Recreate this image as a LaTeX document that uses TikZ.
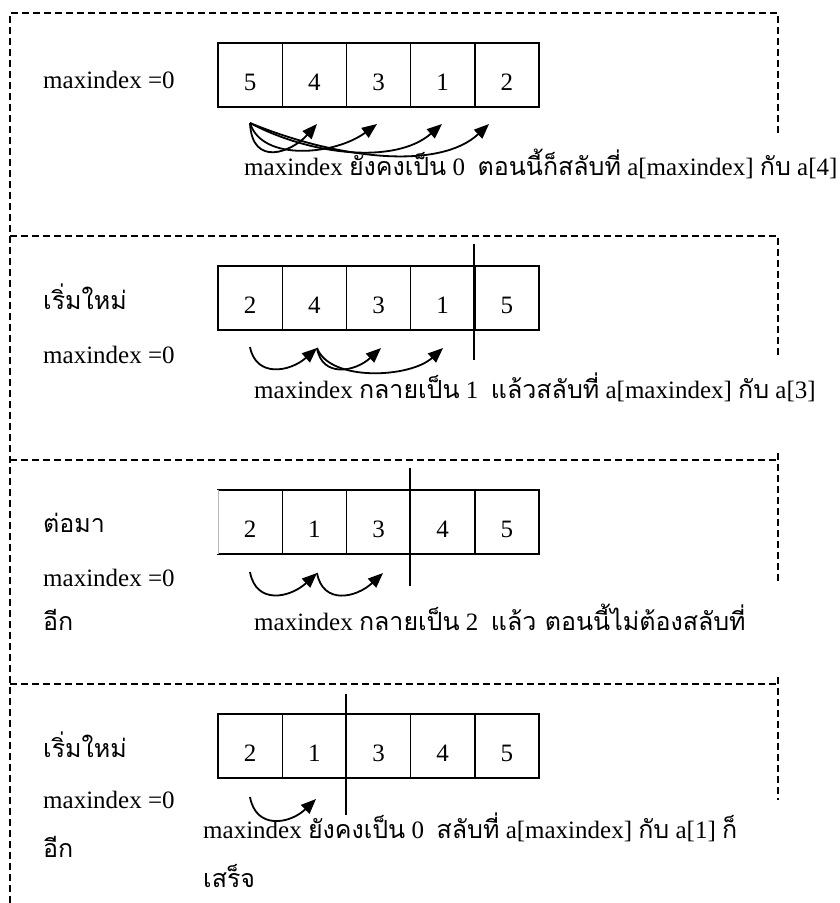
\documentclass[tikz,border=0pt]{standalone}
\usepackage{fontspec}
\setmainfont{Liberation Serif}
\newfontfamily\thai[Script=Thai]{Loma}
\usetikzlibrary{arrows.meta}
\begin{document}
\begin{tikzpicture}[x=1pt,y=-1pt,
  cell/.style={draw, line width=1.4pt, minimum width=64.2pt, minimum height=64pt, inner sep=0pt, outer sep=0pt},
  digit/.style={font=\fontsize{25}{30}\selectfont, inner sep=0pt, anchor=base},
  lbl/.style={font=\fontsize{25}{30}\selectfont, inner sep=0pt, anchor=base west},
  frame/.style={line width=1.3pt, dash pattern=on 7pt off 4pt},
  divider/.style={line width=1.3pt},
  arr/.style={line width=1.8pt, -{Triangle[length=15pt,width=12pt]}},
]
\useasboundingbox (0,0) rectangle (840,903);
% ---------- frames ----------
\draw[frame] (10,903) -- (10,13) -- (778,13) -- (778,134);
\draw[frame] (10,236) -- (778,236) -- (778,356);
\draw[frame] (10,460) -- (778,460);
\draw[frame] (778,453) -- (778,583);
\draw[frame] (10,684) -- (778,684);
\draw[frame] (778,677) -- (778,800);
% ---------- section 1 ----------
\foreach \v [count=\i] in {5,4,3,1,2} {
  \node[cell] (s1c\i) at ({218+64.2*(\i-0.5)},75) {};
  \node[digit] (s1d\i) at ([yshift=-15pt]s1c\i.center) {\v};
}
\node[lbl] (s1l) at (43,88) {maxindex =0};
\node[lbl] (s1t) at (244,175) {maxindex {\thai ยังคงเป็น} 0\ \ {\thai ตอนนี้ก็สลับที่} a[maxindex] {\thai กับ} a[4]};
\coordinate (s1a0) at (250,123);
\coordinate (s1a1) at (317,124);
\coordinate (s1a2) at (377,124);
\coordinate (s1a3) at (442,124);
\coordinate (s1a4) at (489,124);
\draw[arr] (s1a0) .. controls (252,168) and (292,152) .. (s1a1);
\draw[arr] (s1a0) .. controls (262,162) and (335,155) .. (s1a2);
\draw[arr] (s1a0) .. controls (310,155) and (395,165) .. (s1a3);
\draw[arr] (s1a0) .. controls (340,160) and (440,170) .. (s1a4);
% ---------- section 2 ----------
\foreach \v [count=\i] in {2,4,3,1,5} {
  \node[cell] (s2c\i) at ({218+64.2*(\i-0.5)},298) {};
  \node[digit] (s2d\i) at ([yshift=-15pt]s2c\i.center) {\v};
}
\coordinate (s2v1) at (474,244);
\coordinate (s2v2) at (474,360);
\draw[divider] (s2v1) -- (s2v2);
\node[lbl] (s2l1) at (43,309) {\thai เริ่มใหม่};
\node[lbl] (s2l2) at (43,363) {maxindex =0};
\node[lbl] (s2t) at (254,398) {maxindex {\thai กลายเป็น} 1\ \ {\thai แล้วสลับที่} a[maxindex] {\thai กับ} a[3]};
\coordinate (s2a0) at (250,347);
\coordinate (s2a1) at (317,348);
\coordinate (s2a2) at (381,348);
\coordinate (s2a3) at (443,348);
\draw[arr] (s2a0) .. controls (256,378) and (290,372) .. (s2a1);
\draw[arr] (s2a1) .. controls (322,378) and (355,372) .. (s2a2);
\draw[arr] (s2a1) .. controls (330,382) and (410,378) .. (s2a3);
% ---------- section 3 ----------
\foreach \v [count=\i] in {2,1,3,4,5} {
  \node[cell] (s3c\i) at ({218+64.2*(\i-0.5)},522) {};
  \node[digit] (s3d\i) at ([yshift=-15pt]s3c\i.center) {\v};
}
\draw[white, line width=1.6pt] (s3c1.north west) -- (s3c1.south west);
\draw[gray!55, line width=0.8pt] (s3c1.north west) -- (s3c1.south west);
\coordinate (s3v1) at (410,468);
\coordinate (s3v2) at (410,586);
\draw[divider] (s3v1) -- (s3v2);
\node[lbl] (s3l1) at (43,532) {\thai ต่อมา};
\node[lbl] (s3l2) at (43,586) {maxindex =0};
\node[lbl] (s3l3) at (43,630) {\thai อีก};
\node[lbl] (s3t) at (254,630) {maxindex {\thai กลายเป็น} 2\ \ {\thai แล้ว ตอนนี้ไม่ต้องสลับที่}};
\coordinate (s3a0) at (250,572);
\coordinate (s3a1) at (317,573);
\coordinate (s3a2) at (383,573);
\draw[arr] (s3a0) .. controls (256,605) and (290,598) .. (s3a1);
\draw[arr] (s3a1) .. controls (323,605) and (356,598) .. (s3a2);
% ---------- section 4 ----------
\foreach \v [count=\i] in {2,1,3,4,5} {
  \node[cell] (s4c\i) at ({218+64.2*(\i-0.5)},746) {};
  \node[digit] (s4d\i) at ([yshift=-15pt]s4c\i.center) {\v};
}
\coordinate (s4v1) at (346,694);
\coordinate (s4v2) at (346,815);
\draw[divider] (s4v1) -- (s4v2);
\node[lbl] (s4l1) at (43,757) {\thai เริ่มใหม่};
\node[lbl] (s4l2) at (43,808) {maxindex =0};
\node[lbl] (s4l3) at (43,857) {\thai อีก};
\node[lbl] (s4t) at (203,838) {maxindex {\thai ยังคงเป็น} 0\ \ {\thai สลับที่} a[maxindex] {\thai กับ} a[1] {\thai ก็}};
\node[lbl] (s4t2) at (203,887) {\thai เสร็จ};
\coordinate (s4a0) at (250,797);
\coordinate (s4a1) at (316,799);
\draw[arr] (s4a0) .. controls (256,830) and (290,824) .. (s4a1);
\end{tikzpicture}
\end{document}
